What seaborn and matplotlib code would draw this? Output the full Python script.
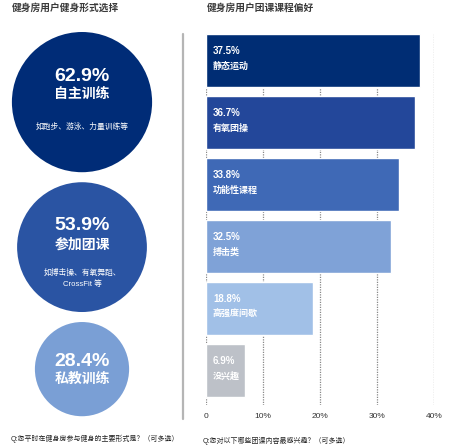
import numpy as np
import seaborn as sns
import matplotlib.pyplot as plt
from matplotlib.lines import Line2D

# 健身形式（左侧圆）
forms = ["自主训练", "参加团课", "私教训练"]
form_pct = [62.9, 53.9, 28.4]
form_notes = ["如跑步、游泳、力量训练等", "如搏击操、有氧舞蹈、\nCrossFit 等", ""]
circle_colors = ["#002C77", "#2A54A3", "#7A9FD5"]

# 团课偏好（右侧条形）
courses = ["静态运动", "有氧团操", "功能性课程", "搏击类", "高强度间歇", "没兴趣"]
course_pct = [37.5, 36.7, 33.8, 32.5, 18.8, 6.9]
bar_colors = ["#002D74", "#23479A", "#3F69B6", "#7FA2D7", "#A1C0E7", "#BDC1C8"]
xticks = [0, 10, 20, 30, 40]
xtick_labels = ["0", "10%", "20%", "30%", "40%"]

sns.set_style("white")
plt.rcParams["font.family"] = ["Liberation Sans", "Noto Sans CJK SC", "DejaVu Sans"]

W, H = 463, 446
fig = plt.figure(figsize=(W / 100, H / 100), dpi=100)

# ---- 左侧：面积与占比成正比的圆 ----
ax_c = fig.add_axes([0, 0, 1, 1])
ax_c.set_xlim(0, W)
ax_c.set_ylim(H, 0)
ax_c.axis("off")

k = 8.84  # 半径(px) = k * sqrt(pct)
radii = [k * np.sqrt(v) for v in form_pct]
centers = []
y = 32
for r in radii:
    y += r
    centers.append(y)
    y += r + 10

sns.scatterplot(x=[82] * 3, y=centers, hue=forms, palette=circle_colors,
                size=form_pct, size_norm=(0, 100),
                sizes=(0, (2 * k * 0.72) ** 2 * 100),
                linewidth=0, legend=False, ax=ax_c)

offsets = [(-26, -8, 25), (-22, -2, 31), (-8, 10, 0)]
for cy, pct, name, note, (o1, o2, o3) in zip(centers, form_pct, forms, form_notes, offsets):
    ax_c.text(82, cy + o1, f"{pct}%", color="white", fontsize=14, fontweight="bold",
              ha="center", va="center")
    ax_c.text(82, cy + o2, name, color="white", fontsize=10, fontweight="bold",
              ha="center", va="center")
    if note:
        ax_c.text(82, cy + o3, note, color="white", fontsize=5.6, ha="center",
                  va="center", linespacing=1.6)

fig.text(12 / W, 1 - 8 / H, "健身房用户健身形式选择", fontsize=7, color="#3a3a3a",
         fontweight="bold", va="center")
fig.text(11 / W, 1 - 439 / H, "Q:您平时在健身房参与健身的主要形式是？（可多选）",
         fontsize=5, color="#222222", va="center")

# ---- 右侧：团课偏好条形图 ----
left, right = 206 / W, 434 / W
top, bottom = 1 - 34 / H, 1 - 405 / H
ax = fig.add_axes([left, bottom, right - left, top - bottom])
sns.barplot(x=course_pct, y=courses, hue=courses, palette=bar_colors, legend=False,
            orient="h", width=0.855, saturation=1, ax=ax)
ax.set_xlim(0, 40)
ax.set_ylim(5.556, -0.43)
ax.set_axisbelow(True)
ax.set_xticks(xticks)
ax.set_xticklabels(xtick_labels, fontsize=6, color="#333333")
ax.set_yticks([])
ax.set_xlabel("")
ax.set_ylabel("")
ax.tick_params(axis="x", length=0, pad=6)
ax.grid(axis="x", linestyle=(0, (1, 1)), color="#888888", linewidth=0.9)
ax.grid(axis="y", visible=False)
for s in ax.spines.values():
    s.set_visible(False)

for i, (pct, name) in enumerate(zip(course_pct, courses)):
    ax.annotate(f"{pct}%", (0, i), xytext=(5, 6.8), textcoords="offset points",
                color="white", fontsize=7, fontweight="bold", va="center")
    ax.annotate(name, (0, i), xytext=(5, -4), textcoords="offset points",
                color="white", fontsize=6.5, fontweight="bold", va="center")

fig.add_artist(Line2D([183 / W, 183 / W], [1 - 34 / H, 1 - 419 / H],
                      color="#b5b5b5", linewidth=1.6))

fig.text(207 / W, 1 - 8 / H, "健身房用户团课课程偏好", fontsize=7, color="#3a3a3a",
         fontweight="bold", va="center")
fig.text(203 / W, 1 - 441 / H, "Q:您对以下哪些团课内容最感兴趣？（可多选）",
         fontsize=5, color="#222222", va="center")

fig.savefig("out.png", dpi=100)
